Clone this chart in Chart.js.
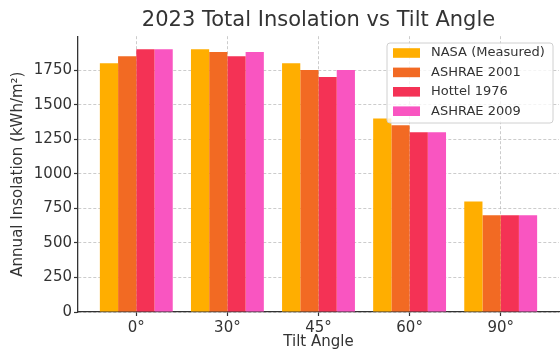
<!DOCTYPE html>
<html>
<head>
<meta charset="utf-8">
<script src="https://cdn.jsdelivr.net/npm/chart.js@4"></script>
<style>
html,body{margin:0;padding:0;background:#fff;}
#wrap{width:560px;height:349px;position:relative;}
</style>
</head>
<body>
<div id="wrap"><canvas id="c"></canvas></div>
<script>
const categories = ['0°', '30°', '45°', '60°', '90°'];
const nasa = [1800, 1900, 1800, 1400, 800];
const ashrae2001 = [1850, 1880, 1750, 1350, 700];
const hottel1976 = [1900, 1850, 1700, 1300, 700];
const ashrae2009 = [1900, 1880, 1750, 1300, 700];
const seriesNames = ['NASA (Measured)', 'ASHRAE 2001', 'Hottel 1976', 'ASHRAE 2009'];
const seriesColors = ['#FFAE00', '#F26A23', '#F43255', '#F955C1'];
const yTickValues = [0, 250, 500, 750, 1000, 1250, 1500, 1750];
const titleText = '2023 Total Insolation vs Tilt Angle';
const xTitle = 'Tilt Angle';
const yTitle = 'Annual Insolation (kWh/m²)';

const FONT = "'DejaVu Sans', sans-serif";
const TXT = '#333333';
const GRID = 'rgba(170,170,170,0.6)';

const allSeries = [nasa, ashrae2001, hottel1976, ashrae2009];
const datasets = allSeries.map((vals, k) => ({
  label: seriesNames[k],
  data: vals.map((v, i) => ({x: i, y: v})),
  backgroundColor: seriesColors[k],
  borderWidth: 0,
  barPercentage: 1.0,
  categoryPercentage: 0.8
}));

const legendPlugin = {
  id: 'boxLegend',
  afterDraw(chart) {
    const ctx = chart.ctx;
    const x0 = 387, y0 = 43, w = 166, h = 80, r = 3;
    ctx.save();
    ctx.beginPath();
    ctx.moveTo(x0 + r, y0);
    ctx.lineTo(x0 + w - r, y0);
    ctx.quadraticCurveTo(x0 + w, y0, x0 + w, y0 + r);
    ctx.lineTo(x0 + w, y0 + h - r);
    ctx.quadraticCurveTo(x0 + w, y0 + h, x0 + w - r, y0 + h);
    ctx.lineTo(x0 + r, y0 + h);
    ctx.quadraticCurveTo(x0, y0 + h, x0, y0 + h - r);
    ctx.lineTo(x0, y0 + r);
    ctx.quadraticCurveTo(x0, y0, x0 + r, y0);
    ctx.closePath();
    ctx.fillStyle = 'rgba(255,255,255,0.8)';
    ctx.fill();
    ctx.strokeStyle = '#d0d0d0';
    ctx.lineWidth = 1;
    ctx.stroke();
    ctx.font = '13px ' + FONT;
    ctx.textBaseline = 'middle';
    ctx.textAlign = 'left';
    chart.data.datasets.forEach((ds, k) => {
      const cy = 53 + k * 19.4;
      ctx.fillStyle = ds.backgroundColor;
      ctx.fillRect(393, cy - 4.8, 27, 9.6);
      ctx.fillStyle = TXT;
      ctx.fillText(ds.label, 431, cy);
    });
    ctx.restore();
  }
};

new Chart(document.getElementById('c'), {
  type: 'bar',
  data: { datasets },
  options: {
    responsive: true,
    maintainAspectRatio: false,
    animation: false,
    layout: { padding: { left: 0, right: 1, top: 0, bottom: 0 } },
    plugins: {
      legend: { display: false },
      tooltip: { enabled: false },
      title: {
        display: true,
        text: titleText,
        fullSize: false,
        color: TXT,
        font: { family: FONT, size: 21, weight: 'normal' },
        padding: { top: 8, bottom: 3 }
      }
    },
    scales: {
      x: {
        type: 'linear',
        z: 1,
        min: -0.64,
        max: 4.64,
        offset: false,
        afterFit(s) { s.height = 37; },
        afterBuildTicks(s) { s.ticks = categories.map((c, i) => ({ value: i })); },
        ticks: {
          autoSkip: false,
          maxRotation: 0,
          color: TXT,
          padding: 3,
          font: { family: FONT, size: 15 },
          callback: (v) => categories[Math.round(v)]
        },
        grid: {
          offset: false,
          display: true,
          color: GRID,
          tickColor: TXT,
          tickLength: 4,
          tickWidth: 1.2,
          tickBorderDash: [],
          drawTicks: true
        },
        border: { display: true, color: TXT, width: 1.3, dash: [3, 2] },
        title: {
          display: true,
          text: xTitle,
          color: TXT,
          font: { family: FONT, size: 15 },
          padding: { top: 0, bottom: -2 }
        }
      },
      y: {
        z: 1,
        min: 0,
        max: 1995,
        afterFit(s) { s.width = 78; },
        afterBuildTicks(s) { s.ticks = yTickValues.map(v => ({ value: v })); },
        ticks: {
          color: TXT,
          padding: 2,
          font: { family: FONT, size: 15 },
          callback: (v) => String(v)
        },
        grid: {
          color: GRID,
          tickColor: TXT,
          tickLength: 4,
          tickWidth: 1.2,
          tickBorderDash: [],
          drawTicks: true
        },
        border: { display: true, color: TXT, width: 1.3, dash: [3, 2] },
        title: {
          display: true,
          text: yTitle,
          color: TXT,
          font: { family: FONT, size: 15 },
          padding: { top: 9, bottom: 0 }
        }
      }
    }
  },
  plugins: [legendPlugin]
});
</script>
</body>
</html>
